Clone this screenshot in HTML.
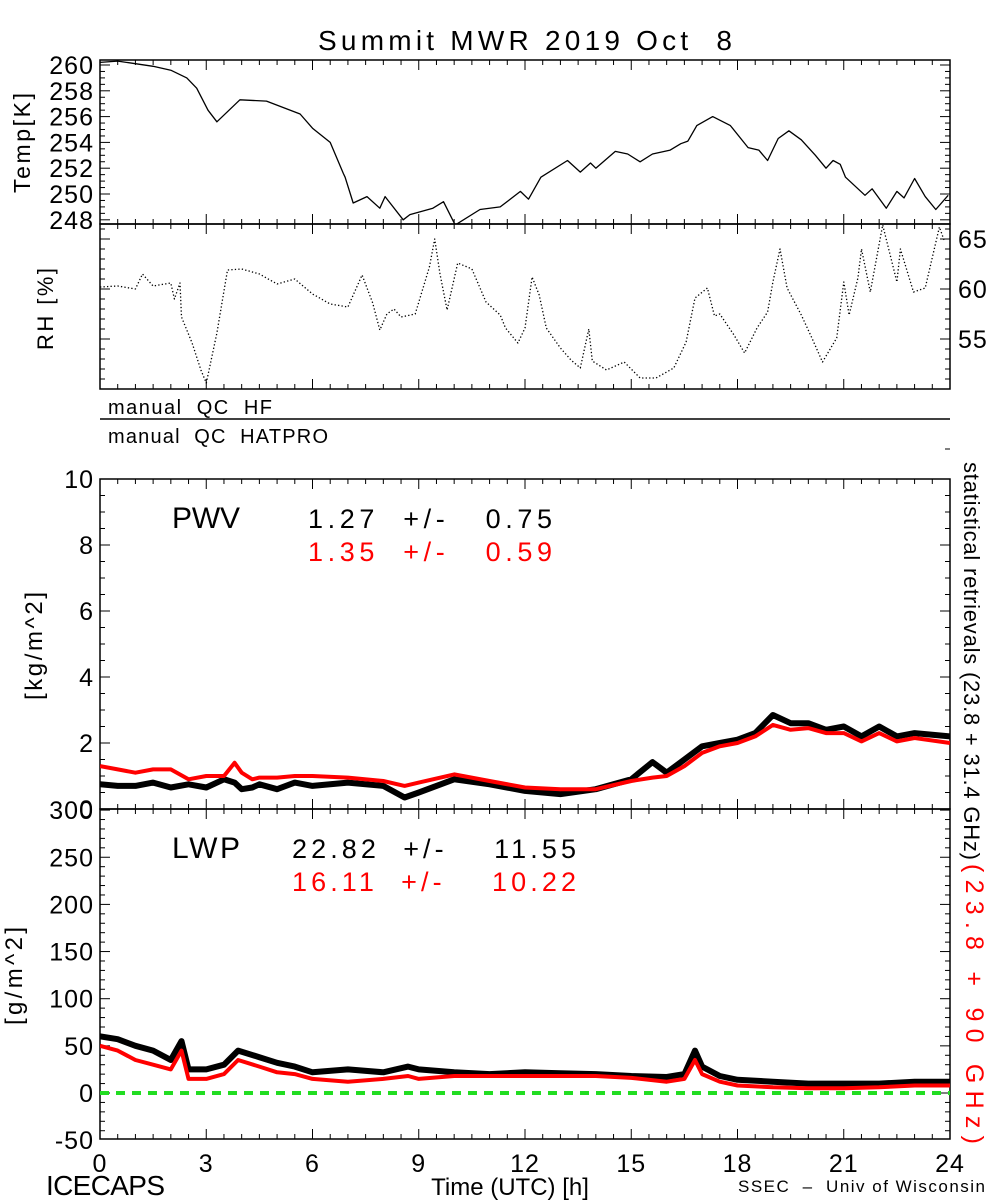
<!DOCTYPE html>
<html><head><meta charset="utf-8"><style>
html,body{margin:0;padding:0;background:#fff;}
svg{display:block;font-family:"Liberation Sans","DejaVu Sans",sans-serif;}
</style></head><body>
<svg id="chart" width="1000" height="1200" viewBox="0 0 1000 1200" xmlns="http://www.w3.org/2000/svg">
<rect width="1000" height="1200" fill="#fff"/>
<defs>
<clipPath id="cT"><rect x="100" y="60" width="850" height="164"/></clipPath>
<clipPath id="cR"><rect x="100" y="224" width="850" height="165"/></clipPath>
<clipPath id="cP"><rect x="100" y="479" width="850" height="330"/></clipPath>
<clipPath id="cL"><rect x="100" y="809" width="850" height="330"/></clipPath>
</defs>
<text x="318" y="50" font-size="28" textLength="414" lengthAdjust="spacing" fill="#000" xml:space="preserve">Summit MWR 2019 Oct  8</text>
<g id="axes"></g>
<g id="marks"></g>
<text transform="translate(30,193) rotate(-90)" font-size="23" textLength="100" lengthAdjust="spacing">Temp[K]</text>
<text transform="translate(53,350) rotate(-90)" font-size="22" textLength="82" lengthAdjust="spacing" xml:space="preserve">RH [%]</text>
<text transform="translate(42,700) rotate(-90)" font-size="24" textLength="108" lengthAdjust="spacing">[kg/m^2]</text>
<text transform="translate(22,1025) rotate(-90)" font-size="24" textLength="98" lengthAdjust="spacing">[g/m^2]</text>
<line x1="100" y1="419" x2="950" y2="419" stroke="#000" stroke-width="1.5"/>
<text x="108" y="414" font-size="20" textLength="164" lengthAdjust="spacing" xml:space="preserve">manual  QC  HF</text>
<text x="108" y="443" font-size="20" textLength="220" lengthAdjust="spacing" xml:space="preserve">manual  QC  HATPRO</text>
<line x1="945" y1="449" x2="950" y2="449" stroke="#000"/>
<text x="172" y="528" font-size="30" textLength="68" lengthAdjust="spacing">PWV</text>
<text x="308" y="528" font-size="27" textLength="244" lengthAdjust="spacing" xml:space="preserve">1.27  +/-   0.75</text>
<text x="308" y="561" font-size="27" fill="#f00" textLength="244" lengthAdjust="spacing" xml:space="preserve">1.35  +/-   0.59</text>
<text x="172" y="858" font-size="30" textLength="68" lengthAdjust="spacing">LWP</text>
<text x="292" y="858" font-size="27" textLength="284" lengthAdjust="spacing" xml:space="preserve">22.82  +/-    11.55</text>
<text x="292" y="891" font-size="27" fill="#f00" textLength="284" lengthAdjust="spacing" xml:space="preserve">16.11  +/-    10.22</text>
<text transform="translate(964,462) rotate(90)" font-size="22" textLength="398" lengthAdjust="spacing" fill="#000">statistical retrievals (23.8 + 31.4 GHz)</text>
<text transform="translate(966,864) rotate(90)" font-size="25" textLength="280" lengthAdjust="spacing" fill="#f00">(23.8 + 90 GHz)</text>
<text x="46" y="1195" font-size="28" textLength="119" lengthAdjust="spacing">ICECAPS</text>
<text x="510" y="1195" font-size="24" text-anchor="middle">Time (UTC) [h]</text>
<text x="738" y="1192" font-size="17" textLength="247" lengthAdjust="spacing" xml:space="preserve">SSEC  –  Univ of Wisconsin</text>
</svg>
<script>
const tempHours=[0,0.5,1,1.5,2,2.45,2.73,3.05,3.3,3.95,4.7,5.65,6.0,6.5,6.87,6.92,7.15,7.54,7.9,8.05,8.56,8.75,9.4,9.7,10.03,10.73,11.3,11.87,12.1,12.45,13.2,13.56,13.85,14.0,14.55,14.9,15.25,15.6,16.1,16.4,16.6,16.85,17.3,17.8,18.3,18.6,18.85,19.15,19.45,19.8,20.2,20.5,20.7,20.9,21.05,21.6,21.8,22.2,22.5,22.7,23.0,23.3,23.6,23.95];
const tempValues=[260.2,260.3,260.1,259.9,259.6,259.0,258.2,256.5,255.6,257.3,257.2,256.2,255.1,254.0,251.6,251.3,249.3,249.8,248.9,249.8,248.0,248.4,248.9,249.4,247.6,248.8,249.0,250.2,249.6,251.3,252.6,251.7,252.4,252.0,253.3,253.1,252.5,253.1,253.4,253.9,254.1,255.3,256.0,255.3,253.6,253.4,252.6,254.3,254.9,254.2,253.0,252.0,252.6,252.3,251.3,249.9,250.4,248.9,250.2,249.7,251.2,249.8,248.8,249.9];
const rhHours=[0,0.5,1,1.2,1.5,2,2.1,2.26,2.3,2.6,2.85,3.0,3.3,3.6,4.0,4.5,5,5.5,6,6.5,7.0,7.4,7.7,7.9,8.1,8.3,8.5,8.9,9.3,9.45,9.6,9.8,10.1,10.5,10.9,11.3,11.45,11.8,12.0,12.2,12.4,12.6,13.0,13.3,13.56,13.8,13.9,14.3,14.8,15.25,15.7,16.2,16.55,16.8,17.15,17.35,17.5,17.9,18.2,18.55,18.85,19.0,19.2,19.4,19.8,20.1,20.4,20.8,21.0,21.15,21.4,21.5,21.75,22.1,22.5,22.6,22.97,23.3,23.7,23.85];
const rhValues=[60.2,60.3,60.0,61.5,60.3,60.6,59.0,60.6,57.2,54.6,51.9,50.6,55.6,61.9,62.0,61.5,60.5,61.0,59.5,58.5,58.2,61.4,58.6,55.9,57.5,58.0,57.2,57.5,62.2,65.0,61.5,57.9,62.6,62.0,58.7,57.4,56.1,54.6,56.1,61.2,59.4,56.1,54.1,52.9,52.1,56.0,52.8,51.9,52.7,51.1,51.1,52.1,54.7,59.1,60.1,57.3,57.5,55.4,53.6,56.1,57.7,60.7,64.0,60.1,57.4,55.1,52.7,55.1,60.7,57.4,61.1,64.0,59.7,66.4,60.7,64.0,59.7,60.1,66.2,64.7];
const pwvHours=[0,0.5,1,1.5,2,2.5,3,3.5,3.8,4,4.3,4.5,5,5.5,6,7,8,8.6,9,10,11,12,13,14,15,15.6,16,16.5,17,17.5,18,18.5,19,19.5,20,20.5,21,21.5,22,22.5,23,24];
const pwvBlack=[0.75,0.7,0.7,0.8,0.65,0.75,0.65,0.9,0.8,0.6,0.65,0.75,0.6,0.8,0.7,0.8,0.7,0.35,0.5,0.9,0.75,0.55,0.45,0.6,0.9,1.42,1.1,1.5,1.9,2.0,2.1,2.3,2.85,2.6,2.6,2.4,2.5,2.2,2.5,2.2,2.3,2.2];
const pwvRed=[1.3,1.2,1.1,1.2,1.2,0.9,1.0,1.0,1.4,1.1,0.9,0.95,0.95,1.0,1.0,0.95,0.85,0.7,0.8,1.05,0.85,0.65,0.6,0.6,0.85,0.95,1.0,1.3,1.7,1.9,2.0,2.2,2.55,2.4,2.45,2.3,2.3,2.05,2.3,2.05,2.15,2.0];
const lwpHours=[0,0.5,1,1.5,2,2.3,2.5,3,3.5,3.9,4.5,5,5.5,6,7,8,8.7,9,10,11,12,13,14,15,16,16.5,16.8,17,17.5,18,19,20,21,22,23,24];
const lwpBlack=[60,57,50,45,35,55,25,25,30,45,38,32,28,22,25,22,28,25,22,20,22,21,20,18,17,20,45,28,18,14,12,10,10,10,12,12];
const lwpRed=[50,45,35,30,25,45,15,15,20,35,28,22,20,15,12,15,18,15,18,18,18,18,18,16,12,15,35,20,12,8,6,5,5,6,8,8];
const xTickLabels=["0","3","6","9","12","15","18","21","24"];
const tempTicks=[248,250,252,254,256,258,260];
const rhTicks=[55,60,65];
const pwvTicks=[0,2,4,6,8,10];
const lwpTicks=[-50,0,50,100,150,200,250,300];

const NS="http://www.w3.org/2000/svg";
const X0=100,X1=950;
const xs=h=>X0+(X1-X0)*h/24;
const yT=v=>65+(260-v)*12.9;
const yR=v=>289-(v-60)*10;
const yP=v=>809-v*33;
const yL=v=>1093-v*0.943;
const axes=document.getElementById('axes');
const marks=document.getElementById('marks');
function mk(tag,attrs,parent){const e=document.createElementNS(NS,tag);for(const k in attrs)e.setAttribute(k,attrs[k]);parent.appendChild(e);return e;}

function panel(name,top,bot,yf,ticks,minorStep,lo,hi,labelSide){
  const g=mk('g',{},axes);
  
  
  mk('rect',{x:X0,y:top,width:X1-X0,height:bot-top,fill:'none',stroke:'#000','stroke-width':1.5},g);
  for(let h=0;h<=24.001;h+=0.5){
    const major=Math.abs(h/3-Math.round(h/3))<1e-6;const L=major?10:5;const x=xs(h);
    mk('line',{x1:x,y1:bot,x2:x,y2:bot-L,stroke:'#000'},g);
    mk('line',{x1:x,y1:top,x2:x,y2:top+L,stroke:'#000'},g);
  }
  for(let v=lo;v<=hi+1e-6;v+=minorStep){
    const y=yf(v);if(y<top-0.5||y>bot+0.5)continue;
    const major=ticks.some(t=>Math.abs(t-v)<1e-6);const L=major?10:5;
    mk('line',{x1:X0,y1:y,x2:X0+L,y2:y,stroke:'#000'},g);
    mk('line',{x1:X1,y1:y,x2:X1-L,y2:y,stroke:'#000'},g);
  }
  ticks.forEach(t=>{
    const tx=mk('text',{x:labelSide==='right'?X1+8:X0-6,y:yf(t)+9,'font-size':25,'letter-spacing':1,'text-anchor':labelSide==='right'?'start':'end'},g);
    
    
    tx.textContent=String(t);
  });
}
panel('temp',60,224,yT,tempTicks,0.5,247.5,261,'left');
panel('rh',224,389,yR,rhTicks,1,50,67,'right');
panel('pwv',479,809,yP,pwvTicks,0.5,0,10,'left');
panel('lwp',809,1139,yL,lwpTicks,10,-50,300,'left');

xTickLabels.forEach((lab,i)=>{
  const t=mk('text',{x:xs(i*3),y:1172,'font-size':25,'letter-spacing':1,'text-anchor':'middle'},axes);
  
  
  t.textContent=lab;
});

function series(name,hours,vals,yf,clip,color,width,dash){
  const d=hours.map((h,i)=>(i?'L':'M')+xs(h).toFixed(1)+','+yf(vals[i]).toFixed(1)).join(' ');
  const p=mk('path',{d:d,fill:'none',stroke:color,'stroke-width':width,'clip-path':'url(#'+clip+')','stroke-linejoin':'round'},marks);
  if(dash)p.setAttribute('stroke-dasharray',dash);
  
  
}
series('temperature-line',tempHours,tempValues,yT,'cT','#000',1.3);
series('rh-dots',rhHours,rhValues,yR,'cR','#000',1.3,'1.3 2.2');
series('pwv-black-line',pwvHours,pwvBlack,yP,'cP','#000',6);
series('pwv-red-line',pwvHours,pwvRed,yP,'cP','#f00',4);
series('lwp-black-line',lwpHours,lwpBlack,yL,'cL','#000',6);
series('lwp-red-line',lwpHours,lwpRed,yL,'cL','#f00',4);
const zl=mk('line',{x1:X0,y1:yL(0),x2:X1,y2:yL(0),stroke:'#22dd22','stroke-width':4,'stroke-dasharray':'9 7'},marks);


</script>
</body></html>
